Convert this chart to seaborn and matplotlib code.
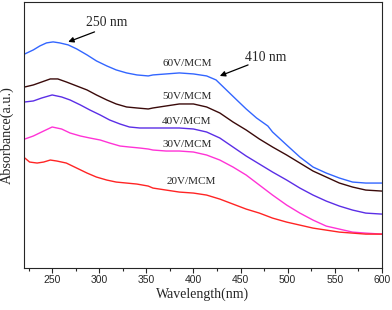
import numpy as np
import pandas as pd
import seaborn as sns
import matplotlib.pyplot as plt
from matplotlib.ticker import MultipleLocator

# absorbance (arbitrary units)
wl_60 = [221, 230, 237, 244, 251, 258, 267, 276, 287, 297, 308, 318, 329, 340, 352,
         357, 371, 385, 400, 414, 424, 435, 446, 456, 467, 479, 484, 499, 513, 527,
         541, 555, 569, 583, 600]
ab_60 = [2.14, 2.18, 2.22, 2.25, 2.26, 2.25, 2.23, 2.19, 2.13, 2.07, 2.02, 1.98, 1.95, 1.93, 1.92,
         1.93, 1.94, 1.95, 1.94, 1.92, 1.88, 1.78, 1.68, 1.59, 1.50, 1.42, 1.36, 1.23, 1.11, 1.01,
         0.95, 0.90, 0.86, 0.85, 0.85]

wl_50 = [221, 230, 239, 248, 256, 265, 276, 287, 297, 308, 318, 329, 340, 352,
         357, 371, 385, 400, 414, 428, 442, 456, 470, 484, 499, 513, 527, 541, 555,
         569, 583, 600]
ab_50 = [1.81, 1.83, 1.86, 1.89, 1.89, 1.86, 1.82, 1.78, 1.73, 1.68, 1.64, 1.61, 1.60, 1.59,
         1.60, 1.62, 1.64, 1.64, 1.61, 1.55, 1.46, 1.38, 1.29, 1.21, 1.13, 1.05, 0.97, 0.91, 0.85,
         0.81, 0.78, 0.77]

wl_40 = [221, 230, 239, 250, 260, 269, 280, 290, 301, 311, 322, 332, 343, 352,
         357, 371, 385, 400, 414, 428, 442, 456, 470, 484, 499, 513, 527, 541, 555,
         569, 583, 600]
ab_40 = [1.66, 1.67, 1.70, 1.73, 1.71, 1.68, 1.63, 1.58, 1.53, 1.48, 1.44, 1.41, 1.40, 1.40,
         1.40, 1.40, 1.40, 1.39, 1.36, 1.30, 1.21, 1.12, 1.04, 0.96, 0.88, 0.80, 0.73, 0.67, 0.62,
         0.58, 0.55, 0.54]

wl_30 = [221, 230, 241, 250, 260, 269, 280, 290, 301, 311, 322, 332, 343, 352,
         357, 371, 385, 400, 414, 428, 442, 456, 470, 484, 499, 513, 527, 541, 555,
         569, 583, 600]
ab_30 = [1.29, 1.32, 1.37, 1.41, 1.39, 1.35, 1.32, 1.30, 1.28, 1.25, 1.22, 1.21, 1.20, 1.19,
         1.18, 1.17, 1.17, 1.16, 1.13, 1.08, 1.01, 0.93, 0.83, 0.73, 0.63, 0.55, 0.48, 0.42, 0.39,
         0.36, 0.35, 0.34]

wl_20 = [221, 226, 234, 241, 248, 255, 265, 276, 287, 297, 308, 318, 329, 340, 352,
         357, 371, 385, 400, 414, 428, 442, 456, 470, 484, 499, 513, 527, 541, 555,
         569, 583, 600]
ab_20 = [1.10, 1.06, 1.05, 1.06, 1.08, 1.07, 1.05, 1.00, 0.95, 0.91, 0.88, 0.86, 0.85, 0.84, 0.82,
         0.80, 0.78, 0.76, 0.75, 0.73, 0.69, 0.64, 0.59, 0.55, 0.50, 0.46, 0.43, 0.40, 0.38, 0.36,
         0.35, 0.34, 0.34]

samples = ['60V/MCM', '50V/MCM', '40V/MCM', '30V/MCM', '20V/MCM']
colors = ['#3366ff', '#3a0a0a', '#5b2ee6', '#ff33d6', '#ff2424']

label_x = [393, 393, 393, 393, 398]
label_y = [2.04, 1.71, 1.46, 1.24, 0.87]

frames = []
for name, w, a in zip(samples,
                      [wl_60, wl_50, wl_40, wl_30, wl_20],
                      [ab_60, ab_50, ab_40, ab_30, ab_20]):
    frames.append(pd.DataFrame({'wavelength': w, 'absorbance': a, 'sample': name}))
df = pd.concat(frames, ignore_index=True)

sns.set_style('ticks')
fig = plt.figure(figsize=(3.92, 3.10), dpi=100)
ax = fig.add_axes([0.061, 0.135, 0.913, 0.859])

sns.lineplot(data=df, x='wavelength', y='absorbance', hue='sample',
             palette=dict(zip(samples, colors)), linewidth=1.0,
             legend=False, ax=ax)

for name, x, y in zip(samples, label_x, label_y):
    ax.text(x, y, name, ha='center', va='center', fontsize=8,
            family='Liberation Serif')

# peak markers
ax.text(308, 2.45, '250 nm', ha='center', va='center', fontsize=9.8,
        family='Liberation Serif')
ax.annotate('', xy=(267, 2.26), xytext=(295, 2.36),
            arrowprops=dict(arrowstyle='-|>', color='black', lw=0.9,
                            mutation_scale=8, shrinkA=0, shrinkB=0))
ax.text(477, 2.10, '410 nm', ha='center', va='center', fontsize=9.8,
        family='Liberation Serif')
ax.annotate('', xy=(428, 1.92), xytext=(458, 2.03),
            arrowprops=dict(arrowstyle='-|>', color='black', lw=0.9,
                            mutation_scale=8, shrinkA=0, shrinkB=0))

ax.set_xlim(220, 600)
ax.set_ylim(0, 2.66)
ax.xaxis.set_major_locator(MultipleLocator(50))
ax.xaxis.set_minor_locator(MultipleLocator(25))
ax.set_yticks([])
ax.tick_params(axis='x', which='major', direction='out', length=3.5, width=0.8,
               labelsize=7.5, pad=1.5)
ax.tick_params(axis='x', which='minor', direction='out', length=1.8, width=0.8)
for lab in ax.get_xticklabels():
    lab.set_family('Liberation Sans')

ax.set_xlabel('Wavelength(nm)', fontsize=10, family='Liberation Serif', labelpad=2)
ax.set_ylabel('Absorbance(a.u.)', fontsize=10.3, family='Liberation Serif', labelpad=7)
for sp in ax.spines.values():
    sp.set_linewidth(0.8)

fig.savefig('out.png', dpi=100)
